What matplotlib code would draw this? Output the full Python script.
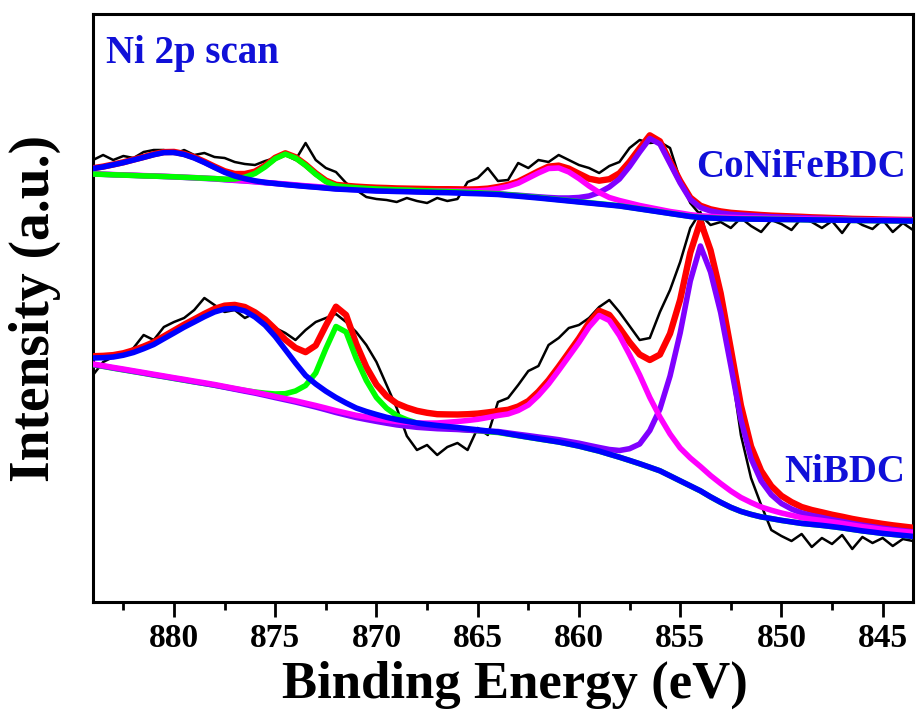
import numpy as np
import matplotlib
matplotlib.use("Agg")
import matplotlib.pyplot as plt
from matplotlib.ticker import MultipleLocator

plt.rcParams['font.family'] = ['Liberation Serif', 'DejaVu Serif']
plt.rcParams['font.weight'] = 'bold'

# binding energy grid (eV), 0.5 eV steps from 884 down to 843.5
energy = np.arange(884.0, 843.4, -0.5)

# ---- CoNiFeBDC (upper trace), intensity in a.u. ----
raw_conife = [442, 447, 442, 446, 444, 450, 452, 452, 448, 452,
              447, 449, 445, 444, 440, 438, 437, 441, 444, 447,
              442, 459, 442, 434, 430, 419, 412, 405, 403, 402,
              400, 404, 401, 399, 404, 401, 403, 420, 424, 434,
              421, 422, 439, 434, 442, 440, 447, 442, 437, 434,
              429, 436, 440, 454, 462, 459, 460, 454, 422, 399,
              387, 377, 380, 374, 384, 376, 370, 382, 378, 372,
              384, 380, 374, 381, 369, 383, 377, 373, 382, 370,
              379, 372]
bg_conife = [428, 427.6, 427.2, 426.9, 426.5, 426.1, 425.8, 425.4, 425, 424.5,
             424, 423.5, 423, 422.2, 421.5, 420.8, 420, 419.1, 418.3, 417.4,
             416.5, 415.6, 414.8, 413.9, 413, 412.5, 412, 411.5, 411, 410.8,
             410.5, 410.3, 410, 409.8, 409.5, 409.3, 409, 408.6, 408.3, 407.9,
             407.5, 406.6, 405.8, 404.9, 404, 403, 402, 401, 400, 399,
             398, 397, 396, 394.5, 393, 391.5, 390, 388.5, 387, 385.5,
             384.5, 384, 383.5, 383.2, 383, 382.9, 382.8, 382.6, 382.5, 382.4,
             382.3, 382.1, 382, 381.9, 381.8, 381.6, 381.5, 381.4, 381.3, 381.2,
             381.1, 381]
# fitted components, height above background
sat_2p12_conife = [5.5, 7.5, 10, 12.5, 15.5, 18.5, 21.5, 24, 24.5, 23,
                   20, 16, 11.5, 7.5, 4.5, 2.5, 1.2, 0.5, 0.2, 0,
                   0, 0, 0, 0, 0, 0, 0, 0, 0, 0,
                   0, 0, 0, 0, 0, 0, 0, 0, 0, 0,
                   0, 0, 0, 0, 0, 0, 0, 0, 0, 0,
                   0, 0, 0, 0, 0, 0, 0, 0, 0, 0,
                   0, 0, 0, 0, 0, 0, 0, 0, 0, 0,
                   0, 0, 0, 0, 0, 0, 0, 0, 0, 0,
                   0, 0]
main_2p12_conife = [0, 0, 0, 0, 0, 0, 0.1, 0.1, 0.2, 0.2,
                    0.3, 0.3, 0.4, 0.6, 1.5, 4, 8.5, 16, 25, 30.5,
                    27.5, 21, 13, 6.5, 3.2, 2.6, 2.3, 2.1, 2, 1.8,
                    1.7, 1.6, 1.5, 1.4, 1.3, 1.2, 1.1, 1, 0.9, 0.8,
                    0.7, 0.6, 0.6, 0.5, 0.5, 0.4, 0.4, 0.4, 0.3, 0.3,
                    0.3, 0.3, 0.2, 0.2, 0.2, 0.2, 0.2, 0.1, 0.1, 0.1,
                    0.1, 0.1, 0.1, 0.1, 0.1, 0.1, 0.1, 0.1, 0.1, 0.1,
                    0, 0, 0, 0, 0, 0, 0, 0, 0, 0,
                    0, 0]
sat_2p32_conife = [0.2, 0.2, 0.2, 0.2, 0.3, 0.3, 0.3, 0.3, 0.3, 0.3,
                   0.4, 0.4, 0.4, 0.4, 0.4, 0.5, 0.5, 0.5, 0.5, 0.6,
                   0.6, 0.6, 0.7, 0.7, 0.7, 0.8, 0.8, 0.9, 0.9, 1.0,
                   1.0, 1.1, 1.2, 1.3, 1.5, 1.7, 2, 2.3, 2.8, 4,
                   6, 9, 13, 19, 25, 30.5, 32, 29, 23.5, 17,
                   11.5, 7.5, 5.5, 4.5, 3.5, 3, 2.5, 2, 2, 1.8,
                   1.7, 1.6, 1.5, 1.4, 1.3, 1.2, 1.1, 1.0, 1.0, 0.9,
                   0.9, 0.8, 0.8, 0.7, 0.7, 0.6, 0.6, 0.6, 0.5, 0.5,
                   0.5, 0.5]
main_2p32_conife = [0.1, 0.1, 0.1, 0.1, 0.1, 0.1, 0.1, 0.1, 0.1, 0.1,
                    0.1, 0.1, 0.1, 0.1, 0.1, 0.2, 0.2, 0.2, 0.2, 0.2,
                    0.2, 0.2, 0.2, 0.3, 0.3, 0.3, 0.3, 0.3, 0.4, 0.4,
                    0.4, 0.4, 0.5, 0.5, 0.5, 0.6, 0.6, 0.6, 0.7, 0.7,
                    0.8, 0.9, 1.0, 1.1, 1.2, 1.5, 2, 3, 4.5, 7,
                    11.5, 18, 27, 41, 57, 72, 68, 50, 32, 17,
                    10, 7, 5.5, 4.5, 4, 3.5, 3, 2.7, 2.4, 2.2,
                    2, 1.8, 1.6, 1.4, 1.2, 1, 0.9, 0.8, 0.7, 0.6,
                    0.5, 0.5]

# ---- NiBDC (lower trace) ----
raw_nibdc = [227, 240, 245, 247, 254, 267, 262, 275, 280, 284,
             292, 304, 297, 290, 292, 284, 289, 280, 274, 269,
             262, 272, 280, 284, 288, 280, 270, 257, 240, 217,
             194, 166, 152, 157, 147, 155, 159, 152, 174, 167,
             200, 204, 217, 231, 236, 257, 264, 274, 277, 284,
             295, 302, 290, 276, 262, 264, 290, 312, 340, 374,
             390, 350, 297, 237, 167, 124, 97, 72, 66, 61,
             68, 55, 64, 58, 67, 53, 65, 59, 64, 56,
             63, 61]
bg_nibdc = [237, 235.3, 233.5, 231.8, 230, 228.3, 226.5, 224.8, 223, 221.3,
            219.5, 217.8, 216, 214, 212, 210, 208, 205.8, 203.5, 201.3,
            199, 196.5, 194, 191.3, 188.5, 186, 183.5, 181.5, 179.5, 177.7,
            176, 174.7, 173.5, 172.7, 172, 171.5, 171, 170.3, 169.7, 169,
            168.5, 167, 165.5, 164, 162.5, 161, 159.5, 157.5, 155.5, 153,
            150.5, 147.5, 144.5, 141.3, 138, 134.5, 131, 126, 121, 116,
            111, 105, 99.5, 94.5, 90.5, 87.5, 85, 83.3, 81.5, 80,
            78.5, 77.5, 76.5, 75.3, 74, 72.5, 71, 69.8, 68.5, 67.5,
            66.5, 65.5]
sat_2p12_nibdc = [7, 9, 11.5, 15, 19.5, 25, 31, 38.5, 46, 53.5,
                  60.5, 67.5, 74, 79, 81.5, 81, 77, 71, 62, 51,
                  40, 30, 24, 19.5, 16, 13, 10.5, 9, 8, 7,
                  6.5, 6, 5.5, 5, 4.5, 4, 3.5, 3, 2.5, 2,
                  1.5, 1.2, 1, 0.8, 0.7, 0.6, 0.5, 0.5, 0.4, 0.4,
                  0.4, 0.3, 0.3, 0.3, 0.3, 0.3, 0.2, 0.2, 0.2, 0.2,
                  0.2, 0.2, 0.2, 0.2, 0.1, 0.1, 0.1, 0.1, 0.1, 0.1,
                  0.1, 0.1, 0.1, 0.1, 0.1, 0.1, 0.1, 0.1, 0.1, 0.1,
                  0.1, 0.1]
main_2p12_nibdc = [0.3, 0.3, 0.3, 0.3, 0.4, 0.4, 0.4, 0.5, 0.5, 0.5,
                   0.6, 0.7, 0.8, 1.0, 1.2, 1.5, 2, 3, 4.5, 7,
                   12, 20, 35, 62, 87, 84, 60, 40, 25, 16,
                   10.5, 7.5, 5.5, 4, 3, 2.5, 2, 1.7, 1.5, 1.3,
                   1, 0.9, 0.8, 0.7, 0.6, 0.5, 0.5, 0.4, 0.4, 0.3,
                   0.3, 0.3, 0.3, 0.2, 0.2, 0.2, 0.2, 0.2, 0.1, 0.1,
                   0.1, 0.1, 0.1, 0.1, 0.1, 0.1, 0.1, 0.1, 0.1, 0.1,
                   0.1, 0.1, 0.1, 0.1, 0.1, 0.1, 0.1, 0.1, 0.1, 0.1,
                   0.1, 0.1]
sat_2p32_nibdc = [1, 1.05, 1.1, 1.15, 1.2, 1.2, 1.25, 1.25, 1.3, 1.35,
                  1.4, 1.45, 1.5, 1.55, 1.6, 1.7, 1.8, 1.9, 2, 2.1,
                  2.2, 2.35, 2.5, 2.65, 2.8, 3, 3.2, 3.5, 3.8, 4.1,
                  4.5, 5, 5.5, 6.2, 7, 8.2, 9.5, 11.2, 13, 15.5,
                  18, 21, 26, 33, 44, 57, 72, 88, 104, 122,
                  136, 134, 122, 106, 89, 70, 54, 42, 33, 28,
                  24.5, 21.5, 19, 16.5, 14, 12, 10, 8.5, 7.5, 6.7,
                  5.8, 5.3, 5, 4.8, 4.6, 4.4, 4.3, 4.2, 4.1, 4,
                  4, 4]
main_2p32_nibdc = [0.5, 0.5, 0.5, 0.5, 0.6, 0.6, 0.6, 0.6, 0.7, 0.7,
                   0.7, 0.7, 0.8, 0.8, 0.8, 0.8, 0.9, 0.9, 0.9, 0.9,
                   1, 1, 1, 1, 1, 1, 1, 1, 1.1, 1.1,
                   1.1, 1.2, 1.2, 1.3, 1.3, 1.4, 1.5, 1.6, 1.7, 1.8,
                   2, 2.1, 2.2, 2.4, 2.5, 2.7, 2.8, 3, 3.3, 3.6,
                   4, 5, 7, 12, 20, 37, 62, 100, 148, 205,
                   245, 225, 190, 142, 92, 56, 36, 24, 17, 13,
                   10.5, 9, 8, 7, 6.5, 6, 5.8, 5.5, 5.3, 5,
                   4.8, 4.6]

x_ticks = [880, 875, 870, 865, 860, 855, 850, 845]

RED = '#ff0000'
GREEN = '#00ff00'
BLUE = '#0000ff'
MAGENTA = '#ff00ff'
PURPLE = '#8000ff'
LW = 4.0

fig = plt.figure(figsize=(9.17, 7.28), dpi=100)
ax = fig.add_axes([93 / 917, 1 - 602 / 728, 820 / 917, 588 / 728])


def draw_spectrum(raw, bg, comps, order):
    bg = np.array(bg)
    peaks = {k: np.array(v) for k, v in comps.items()}
    envelope = bg + sum(peaks.values())
    ax.plot(energy, raw, color='black', lw=1.8, zorder=2)
    ax.plot(energy, envelope, color=RED, lw=LW + 0.6, zorder=3)
    for z, color in enumerate(order):
        ax.plot(energy, bg + peaks[color], color=color, lw=LW, zorder=4 + z)


draw_spectrum(raw_conife, bg_conife,
              {BLUE: sat_2p12_conife, GREEN: main_2p12_conife,
               MAGENTA: sat_2p32_conife, PURPLE: main_2p32_conife},
              [PURPLE, MAGENTA, GREEN, BLUE])
draw_spectrum(raw_nibdc, bg_nibdc,
              {BLUE: sat_2p12_nibdc, GREEN: main_2p12_nibdc,
               MAGENTA: sat_2p32_nibdc, PURPLE: main_2p32_nibdc},
              [GREEN, PURPLE, MAGENTA, BLUE])

ax.set_xlim(884, 843.5)
ax.set_ylim(0, 588)
ax.set_xticks(x_ticks)
ax.xaxis.set_minor_locator(MultipleLocator(2.5))
ax.set_yticks([])
ax.tick_params(axis='x', which='major', direction='out', length=11, width=2,
               pad=4, labelsize=24)
ax.tick_params(axis='x', which='minor', direction='out', length=6, width=2)
for lab in ax.get_xticklabels():
    lab.set_fontweight('bold')
for sp in ax.spines.values():
    sp.set_linewidth(2.2)

txt_color = '#1010d8'
ax.text(0.016, 0.917, 'Ni 2p scan', transform=ax.transAxes, color=txt_color,
        fontsize=28, fontweight='bold', ha='left', va='baseline')
ax.text(0.9915, 0.7228, 'CoNiFeBDC', transform=ax.transAxes, color=txt_color,
        fontsize=28, fontweight='bold', ha='right', va='baseline')
ax.text(0.990, 0.2046, 'NiBDC', transform=ax.transAxes, color=txt_color,
        fontsize=28, fontweight='bold', ha='right', va='baseline')

fig.text(515 / 917, 1 - 685 / 728, 'Binding Energy (eV)', fontsize=38,
         fontweight='bold', ha='center', va='center')
fig.text(35 / 917, 1 - 308 / 728, 'Intensity (a.u.)', fontsize=40,
         fontweight='bold', ha='center', va='center', rotation=90)

fig.savefig('out.png', dpi=100)
